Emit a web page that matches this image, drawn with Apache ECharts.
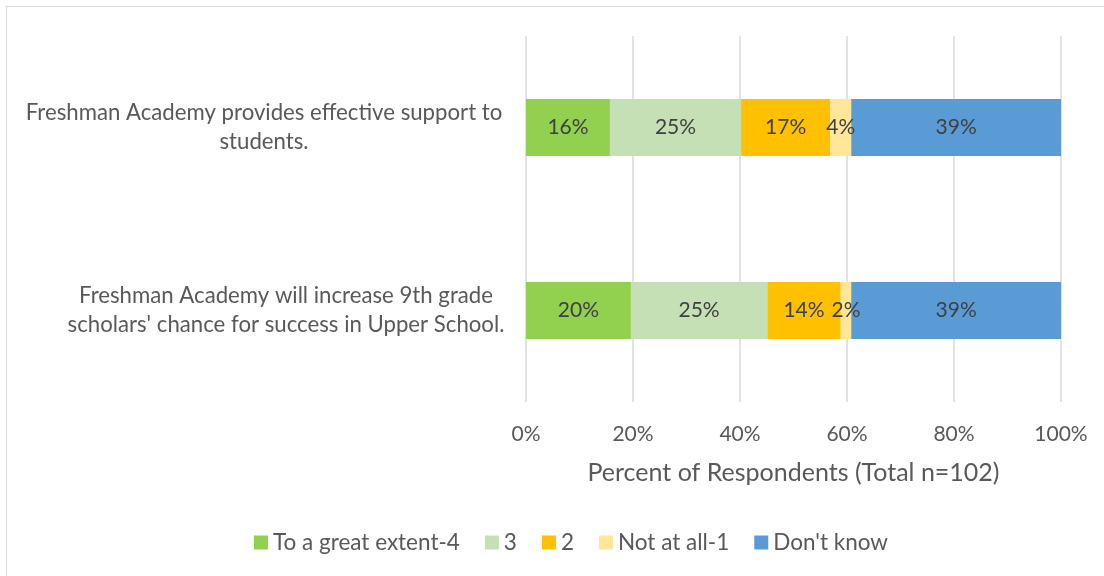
<!DOCTYPE html>
<html>
<head>
<meta charset="utf-8">
<script src="https://cdn.jsdelivr.net/npm/echarts@6/dist/echarts.min.js"></script>
<style>
  html, body { margin: 0; padding: 0; background: #fff; overflow: hidden; }
  #frame { position: absolute; left: 6px; top: 6px; width: 1200px; height: 700px;
           border: 1px solid #D9D9D9; box-sizing: border-box; pointer-events: none; }
  #chart { position: absolute; left: 0; top: 0; width: 1104px; height: 576px; }
</style>
</head>
<body>
<div id="chart"></div>
<div id="frame"></div>
<script>
// Survey statements (one bar each)
const statements = [
  "Freshman Academy provides effective support to\nstudents.",
  "Freshman Academy will increase 9th grade\nscholars' chance for success in Upper School."
];
// Response categories, in stacking order
const responses = ["To a great extent-4", "3", "2", "Not at all-1", "Don't know"];
// Share of respondents (%) per response, one value per statement (n=102)
const greatExtent = [15.69, 19.61];
const three       = [24.51, 25.49];
const two         = [16.67, 13.73];
const notAtAll    = [3.92, 1.96];
const dontKnow    = [39.22, 39.22];
const xTicks = [0, 20, 40, 60, 80, 100];

const colors = ["#92D050", "#C5E0B4", "#FFC000", "#FFE699", "#5B9BD5"];
const seriesValues = [greatExtent, three, two, notAtAll, dontKnow];
const FONT = "Lato, 'Open Sans', sans-serif";

const chart = echarts.init(document.getElementById('chart'), null, { renderer: 'canvas' });

chart.setOption({
  animation: false,
  textStyle: { fontFamily: FONT },
  grid: { left: 526, right: 43, top: 36, bottom: 174 },
  legend: {
    bottom: 17,
    left: 249,
    itemWidth: 14, itemHeight: 14, itemGap: 25,
    icon: 'rect',
    textStyle: { color: '#595959', fontSize: 22.5, fontFamily: FONT },
    data: responses
  },
  xAxis: {
    type: 'value',
    min: xTicks[0], max: xTicks[xTicks.length - 1], interval: 20,
    axisLine: { show: false },
    axisTick: { show: false },
    splitLine: { lineStyle: { color: '#D9D9D9', width: 1.5 } },
    axisLabel: { formatter: '{value}%', color: '#595959', fontSize: 21, margin: 22, fontFamily: FONT },
    name: 'Percent of Respondents (Total n=102)',
    nameLocation: 'middle',
    nameGap: 58,
    nameTextStyle: { color: '#595959', fontSize: 25, fontFamily: FONT }
  },
  yAxis: {
    type: 'category',
    inverse: true,
    data: statements,
    axisLine: { show: false },
    axisTick: { show: false },
    axisLabel: {
      margin: 23,
      align: 'right',
      formatter: function (val, idx) {
        const tag = idx === 0 ? 'a' : 'b';
        return val.split('\n').map(l => '{' + tag + '|' + l + '}').join('\n');
      },
      rich: {
        a: { width: 478, align: 'center', color: '#595959', fontSize: 22.2, lineHeight: 29, fontFamily: FONT },
        b: { width: 434, align: 'center', color: '#595959', fontSize: 22.2, lineHeight: 29, fontFamily: FONT }
      }
    }
  },
  series: responses.map((name, i) => ({
    name: name,
    type: 'bar',
    stack: 'total',
    barWidth: 57,
    itemStyle: { color: colors[i] },
    label: {
      show: true,
      position: 'inside',
      color: '#404040',
      fontSize: 21,
      fontFamily: FONT,
      formatter: p => Math.round(p.value) + '%'
    },
    data: seriesValues[i]
  }))
});
</script>
</body>
</html>
